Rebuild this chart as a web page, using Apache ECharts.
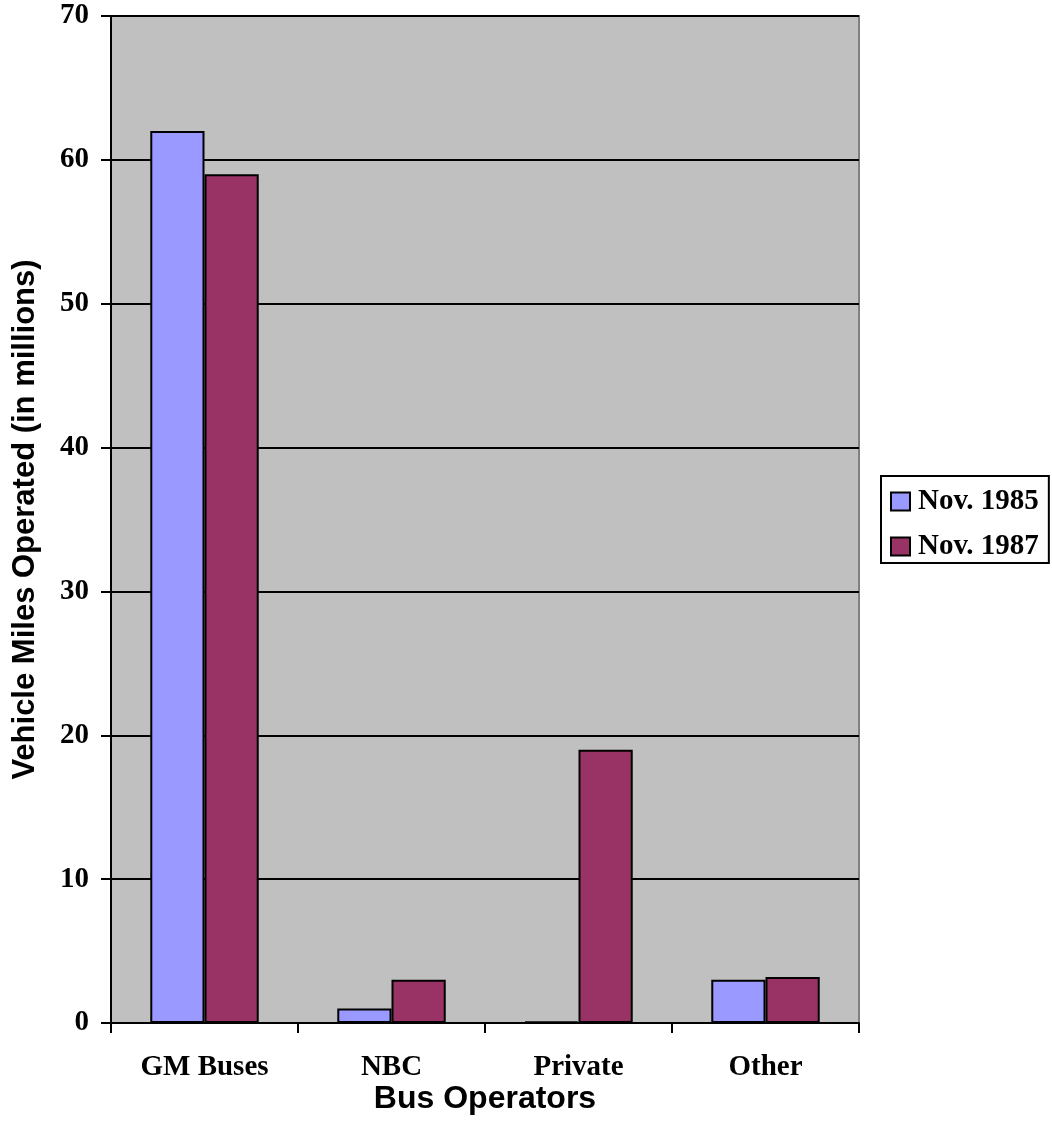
<!DOCTYPE html>
<html>
<head>
<meta charset="utf-8">
<script src="https://cdn.jsdelivr.net/npm/echarts@6/dist/echarts.min.js"></script>
<style>
  html, body { margin: 0; padding: 0; background: #fff; }
  #chart { width: 1052px; height: 1142px; }
</style>
</head>
<body>
<div id="chart"></div>
<script>
// Vehicle miles operated by bus operator (millions)
const categories = ['GM Buses', 'NBC', 'Private', 'Other'];
const nov1985 = [62, 1, 0.1, 3];
const nov1987 = [59, 3, 19, 3.2];
const yTicks = { min: 0, max: 70, interval: 10 };

const serif = '"Liberation Serif", "Times New Roman", serif';
const sans = '"Liberation Sans", Arial, sans-serif';

const chart = echarts.init(document.getElementById('chart'), null, { renderer: 'canvas' });

chart.setOption({
  animation: false,
  backgroundColor: '#ffffff',
  grid: {
    left: 111, right: 193, top: 16, bottom: 119,
    containLabel: false,
    outerBoundsMode: 'none',
    show: true,
    backgroundColor: '#c0c0c0',
    borderColor: '#808080',
    borderWidth: 2
  },
  legend: {
    orient: 'vertical',
    left: 881, top: 476,
    padding: [11, 10, 2, 9],
    itemGap: 16,
    itemWidth: 19, itemHeight: 18,
    icon: 'rect',
    borderColor: '#000', borderWidth: 2,
    backgroundColor: '#fff',
    textStyle: { fontFamily: serif, fontWeight: 'bold', fontSize: 29, color: '#000', padding: [0, 0, 0, 3] },
    itemStyle: { borderColor: '#000', borderWidth: 2 },
    data: ['Nov. 1985', 'Nov. 1987']
  },
  xAxis: {
    type: 'category',
    data: categories,
    boundaryGap: true,
    name: 'Bus Operators',
    nameLocation: 'middle',
    nameGap: 60,
    nameMoveOverlap: false,
    nameTextStyle: { fontFamily: sans, fontWeight: 'bold', fontSize: 32, color: '#000' },
    axisLine: { lineStyle: { color: '#000', width: 2 } },
    axisTick: { show: true, length: 10, lineStyle: { color: '#000', width: 2 } },
    axisLabel: { fontFamily: serif, fontWeight: 'bold', fontSize: 29, color: '#000', margin: 30 }
  },
  yAxis: {
    type: 'value',
    min: yTicks.min, max: yTicks.max, interval: yTicks.interval,
    name: 'Vehicle Miles Operated (in millions)',
    nameLocation: 'middle',
    nameGap: 70,
    nameMoveOverlap: false,
    nameRotate: 90,
    nameTextStyle: { fontFamily: sans, fontWeight: 'bold', fontSize: 31, color: '#000' },
    axisLine: { show: true, lineStyle: { color: '#000', width: 2 } },
    axisTick: { show: true, length: 10, lineStyle: { color: '#000', width: 2 } },
    splitLine: { show: true, lineStyle: { color: '#000', width: 2 } },
    axisLabel: { fontFamily: serif, fontWeight: 'bold', fontSize: 29, color: '#000', margin: 22 }
  },
  series: [
    {
      name: 'Nov. 1985',
      type: 'bar',
      data: nov1985,
      barGap: '0%',
      barCategoryGap: '42%',
      itemStyle: { color: '#9999ff', borderColor: '#000', borderWidth: 2 }
    },
    {
      name: 'Nov. 1987',
      type: 'bar',
      data: nov1987,
      barGap: '0%',
      barCategoryGap: '42%',
      itemStyle: { color: '#993366', borderColor: '#000', borderWidth: 2 }
    }
  ]
});
</script>
</body>
</html>
